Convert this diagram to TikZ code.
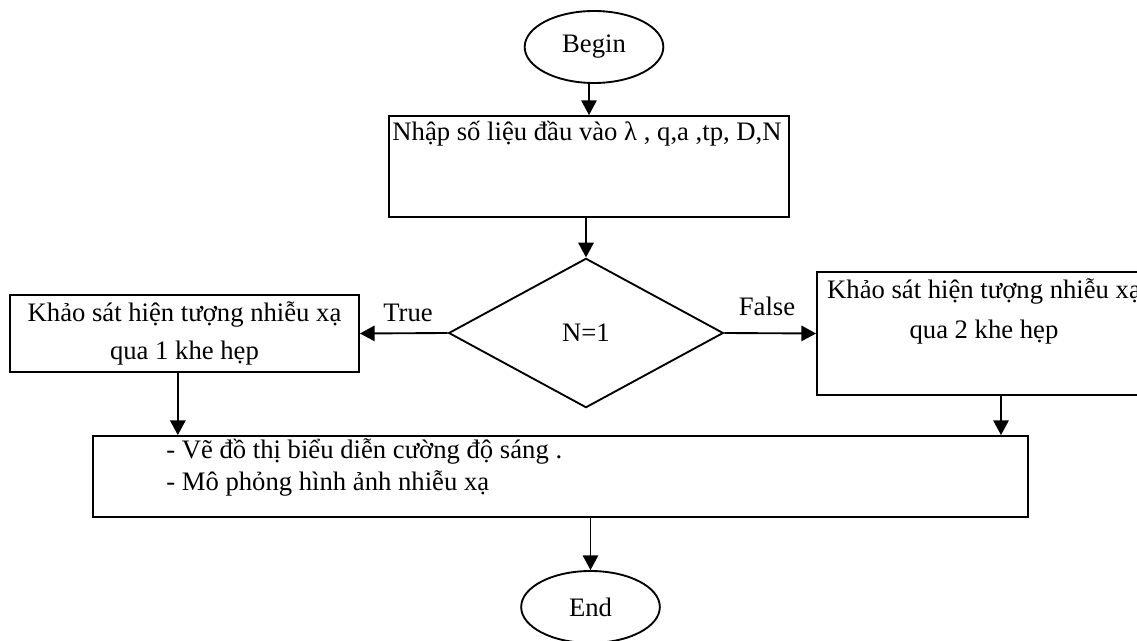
\documentclass[tikz,border=0pt]{standalone}
\usepackage{fontspec}
\setmainfont{Liberation Serif}
\usetikzlibrary{shapes.geometric,arrows.meta}
\begin{document}
\begin{tikzpicture}[x=0.75pt,y=-0.75pt,
  every node/.style={font=\fontsize{20}{23}\selectfont},
  line/.style={line width=1.4pt},
  arr/.style={line, -{Triangle[length=11pt,width=11.5pt]}},
  term/.style={ellipse, draw, line width=1.4pt, minimum width=104pt, minimum height=54pt, inner sep=0pt},
  box/.style={rectangle, draw, line width=1.4pt, inner sep=0pt},
  txt/.style={inner sep=0pt, align=center},
  cond/.style={diamond, draw, line width=1.4pt, inner sep=0pt, minimum width=206pt, minimum height=112pt}
]
\useasboundingbox (0,0) rectangle (1137,641);
\clip (0,0) rectangle (1137,641);

% terminals
\node[term] (begin) at (594,47) {Begin};
\node[term] (end) at (590.5,607) {End};

% input box with its caption along the top
\node[box, minimum width=300pt, minimum height=75.75pt] (input) at (589,166.5) {};
\node[txt] (inputtext) at (587,134) {Nhập số liệu đầu vào λ , q,a ,tp, D,N};

% decision
\node[cond] (dec) at (586,333) {N=1};

% branches
\node[box, minimum width=261.75pt, minimum height=57.75pt, align=center,
      font=\fontsize{20}{28}\selectfont] (left) at (184.5,333.5)
  {Khảo sát hiện tượng nhiễu xạ\\qua 1 khe hẹp};
\node[box, minimum width=250.5pt, minimum height=92.25pt] (right) at (984,333.5) {};
\node[txt, font=\fontsize{20}{30}\selectfont] (righttext) at (984,311)
  {Khảo sát hiện tượng nhiễu xạ\\qua 2 khe hẹp};

% output box
\node[box, minimum width=701.25pt, minimum height=60.75pt] (main) at (560.5,476.5) {};
\node[txt, align=left, anchor=west, font=\fontsize{20}{24}\selectfont] (maintext) at (166,467)
  {- Vẽ đồ thị biểu diễn cường độ sáng .\\- Mô phỏng hình ảnh nhiễu xạ};

% branch labels
\node[txt] (truelbl) at (408,313) {True};
\node[txt] (falselbl) at (767,306) {False};

% connectors
\draw[arr] (input.north |- begin.south) -- (input.north);
\draw[arr] (input.south -| dec.north) -- (dec.north);
\draw[arr] (dec.west) -- (left.east);
\draw[arr] (dec.east) -- (right.west);
\draw[arr] ([xshift=-5pt]left.south) -- ([xshift=-5pt]left.south |- main.north);
\draw[arr] ([xshift=12.75pt]right.south) -- ([xshift=12.75pt]right.south |- main.north);
\draw[arr] (main.south -| end.north) -- (end.north);
\end{tikzpicture}
\end{document}
